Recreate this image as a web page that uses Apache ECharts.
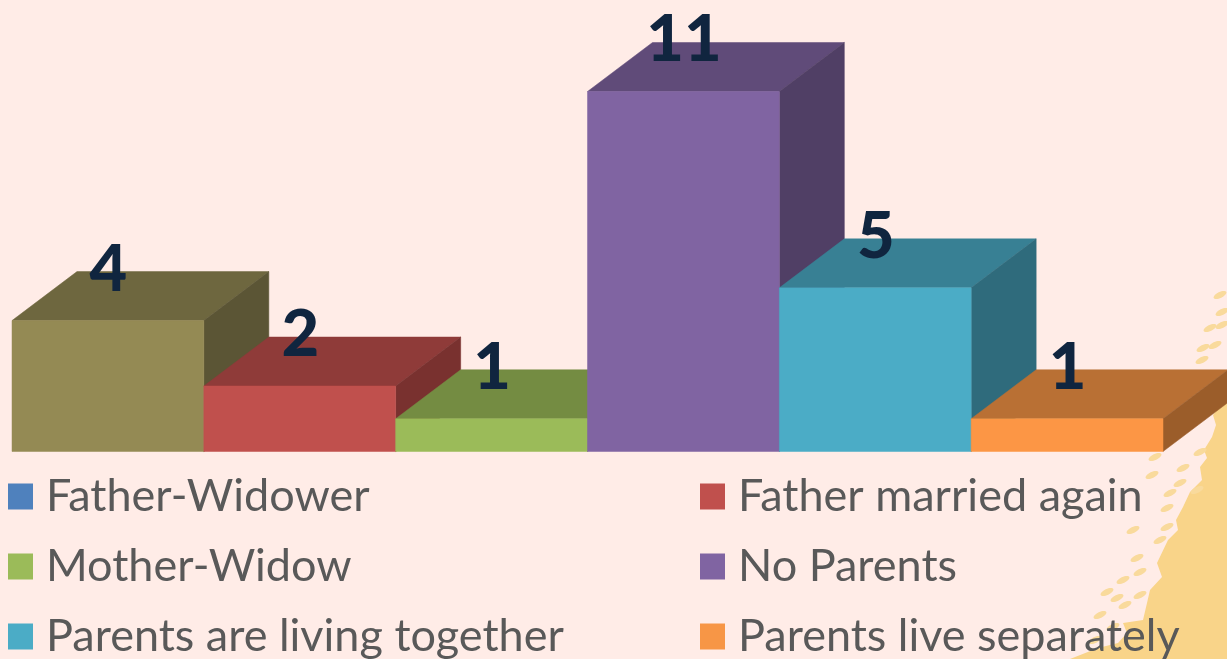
<!DOCTYPE html>
<html><head><meta charset="utf-8">
<style>html,body{margin:0;padding:0;background:#FFECE7}#c{width:1227px;height:659px}</style>
<script src="https://cdn.jsdelivr.net/npm/echarts@6/dist/echarts.min.js"></script></head>
<body><div id="c"></div>
<script>
const categories = ['Father-Widower','Father married again','Mother-Widow','No Parents','Parents are living together','Parents live separately'];
const values = [4,2,1,11,5,1];
const legendColors = ['#4F81BD','#C0504D','#9BBB59','#8064A2','#4BACC6','#F79646'];
const frontColors = ['#948A54','#C0504D','#9BBB59','#8064A2','#4BACC6','#FC9645'];
const topColors = ['#6E673F','#8F3B39','#748C42','#604B79','#388094','#B97034'];
const sideColors = ['#5B5535','#79312F','#5F7336','#503F65','#2F6B7C','#9B5D2A'];
const leftLegend = [categories[0],categories[2],categories[4]];
const rightLegend = [categories[1],categories[3],categories[5]];
const decoEdge = [[1227,392],[1218,408],[1213,415],[1216,425],[1212,437],[1204,450],[1207,458],[1200,467],[1202,480],[1190,492],[1183,507],[1176,520],[1178,530],[1168,540],[1157,563],[1162,577],[1150,590],[1147,603],[1143,620],[1123,623],[1127,633],[1118,643],[1098,648],[1070,659],[1227,659]];
const decoSpecks = [[1220,295],[1222,312],[1210,328],[1203,348],[1202,360],[1155,457],[1152,475],[1183,468],[1200,452],[1180,483],[1170,493],[1167,508],[1133,530],[1137,558],[1123,580],[1107,592],[1117,598],[1100,615],[1113,627],[1160,540],[1167,527],[1197,490],[1140,572],[1125,605],[1095,640],[1140,595],[1215,345],[1222,325]];

const depthX = 65, depthY = 49;
function renderBar(params, api){
  const i = api.value(0), v = api.value(1);
  const b = api.coord([i,0]), t = api.coord([i,v]);
  const w = api.size([1,0])[0];
  const xl = b[0]-w/2, xr = b[0]+w/2, yb = b[1], yt = t[1];
  const poly = (points, fill) => ({type:'polygon',shape:{points},style:{fill,stroke:fill,lineWidth:0.5}});
  return {type:'group',children:[
    poly([[xl,yt],[xr,yt],[xr+depthX,yt-depthY],[xl+depthX,yt-depthY]],topColors[i]),
    poly([[xr,yt],[xr+depthX,yt-depthY],[xr+depthX,yb-depthY],[xr,yb]],sideColors[i]),
    poly([[xl,yt],[xr,yt],[xr,yb],[xl,yb]],frontColors[i]),
    {type:'text',z2:50,style:{text:String(v),x:b[0]+0.5,y:yt-51,align:'center',verticalAlign:'middle',fill:'#10253F',font:'900 65px Lato'}}
  ]};
}
const chart = echarts.init(document.getElementById('c'),null,{renderer:'canvas'});
const legendBase = {orient:'vertical',top:474,height:185,padding:0,itemWidth:25,itemHeight:26,itemGap:25,
  selectedMode:false,icon:'rect',textStyle:{color:'#595959',fontFamily:'Lato',fontSize:45,padding:[0,0,0,8]}};
chart.setOption({
  animation:false,
  backgroundColor:'#FFECE7',
  grid:{left:12,right:64,top:91.5,bottom:207.5},
  xAxis:{type:'category',data:categories,show:false},
  yAxis:{type:'value',min:0,max:11,show:false},
  legend:[
    Object.assign({},legendBase,{left:8,data:leftLegend}),
    Object.assign({},legendBase,{left:700,data:rightLegend})
  ],
  graphic:[
    {type:'polygon',silent:true,z:-1,shape:{points:decoEdge},style:{fill:'#F9D489'}}
  ].concat(decoSpecks.map(p=>({type:'ellipse',silent:true,z:-1,x:p[0],y:p[1],rotation:0.45,shape:{cx:0,cy:0,rx:7,ry:3},style:{fill:'#F9DA9C'}}))),
  series:categories.map((name,i)=>({
    name,type:'custom',coordinateSystem:'cartesian2d',
    itemStyle:{color:legendColors[i]},
    encode:{x:0,y:1},
    renderItem:renderBar,
    data:[[i,values[i]]]
  }))
});
</script></body></html>
